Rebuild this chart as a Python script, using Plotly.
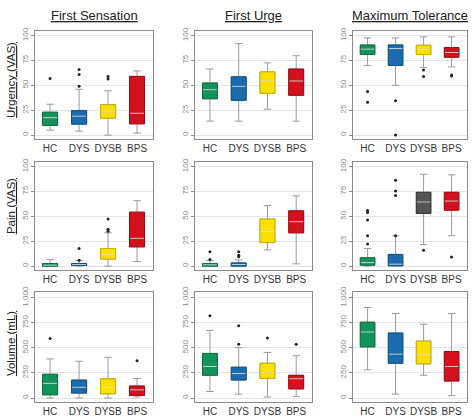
import plotly.graph_objects as go

groups = ["HC", "DYS", "DYSB", "BPS"]
col_titles = ["First Sensation", "First Urge", "Maximum Tolerance"]
row_titles = ["Urgency (VAS)", "Pain (VAS)", "Volume (mL)"]

# Urgency - First Sensation
u_fs_lo = [5, 4, 0, 2]
u_fs_q1 = [9.7, 11, 17, 11.3]
u_fs_med = [17.5, 19, 23.3, 22]
u_fs_q3 = [23, 24.6, 30.5, 59]
u_fs_hi = [31, 46, 44.5, 64.5]
u_fs_out = [[57], [66, 61, 49], [59, 56.5], []]

# Urgency - First Urge
u_fu_lo = [14, 14, 26, 14]
u_fu_q1 = [36.5, 34.9, 42, 40]
u_fu_med = [45.6, 49, 54.4, 54.4]
u_fu_q3 = [52.4, 58.6, 63.5, 66.4]
u_fu_hi = [66.4, 92, 72.6, 79.8]
u_fu_out = [[], [], [], []]

# Urgency - Maximum Tolerance
u_mt_lo = [70, 50, 68, 68.6]
u_mt_q1 = [81, 70, 81, 78.3]
u_mt_med = [86.4, 87, 86.4, 83]
u_mt_q3 = [90.6, 90.6, 90.3, 88]
u_mt_hi = [97.7, 97.7, 98.7, 98.7]
u_mt_out = [[43.7, 33], [34.6, 0], [65.4, 59], [60.5, 59.5]]

# Pain - First Sensation
p_fs_lo = [0, 0, 0, 4.6]
p_fs_q1 = [0, 0.7, 7.2, 19.4]
p_fs_med = [1, 1.6, 12, 28]
p_fs_q3 = [2.6, 2.6, 17.8, 54.3]
p_fs_hi = [6.6, 5.6, 33.5, 65.8]
p_fs_out = [[], [17.8, 6], [47.4, 37, 35], []]

# Pain - First Urge
p_fu_lo = [0, 0, 16.4, 2.3]
p_fu_q1 = [0, 0, 23.7, 33.5]
p_fu_med = [1.3, 1.6, 35, 44.7]
p_fu_q3 = [2.6, 3.3, 47.4, 55.6]
p_fu_hi = [5.6, 6.2, 60.9, 70.7]
p_fu_out = [[14.5, 6.6], [14.5, 11, 9.5], [], []]

# Pain - Maximum Tolerance
p_mt_lo = [0, 0, 21.7, 30.6]
p_mt_q1 = [1, 0.3, 53, 56.3]
p_mt_med = [3.6, 2, 64.5, 65.5]
p_mt_q3 = [8.5, 11.8, 74.3, 74.3]
p_mt_hi = [17.8, 30.6, 92.4, 91.8]
p_mt_out = [[22.4, 30.6, 46.4, 54, 56], [30.6, 71, 75.5, 86.5], [16.1], [9.2]]

# Volume - First Sensation
v_fs_lo = [0, 0, 0, 10]
v_fs_q1 = [32, 49, 42, 26]
v_fs_med = [146, 107, 107, 81]
v_fs_q3 = [237, 179, 192, 120]
v_fs_hi = [390, 367, 406, 195]
v_fs_out = [[594], [], [], [373]]

# Volume - First Urge
v_fu_lo = [65, 39, 10, 16]
v_fu_q1 = [227, 179, 195, 91]
v_fu_med = [315, 244, 250, 192]
v_fu_q3 = [445, 308, 347, 227]
v_fu_hi = [675, 503, 455, 422]
v_fu_out = [[821], [536, 721], [600], [536]]

# Volume - Maximum Tolerance
v_mt_lo = [282, 39, 227, 23]
v_mt_q1 = [510, 347, 341, 169]
v_mt_med = [659, 438, 438, 315]
v_mt_q3 = [757, 649, 568, 464]
v_mt_hi = [903, 844, 737, 844]
v_mt_out = [[], [], [], []]

vas_ticks = [0, 25, 50, 75, 100]
vol_ticks = [0, 250, 500, 750, 1000]

colors = ["#12935a", "#1b6cad", "#fbdf00", "#d3101e"]
border = ["#0b6e42", "#124f82", "#c9b000", "#9e0a14"]
colors_pain_mt = ["#12935a", "#1b6cad", "#555555", "#d3101e"]
border_pain_mt = ["#0b6e42", "#124f82", "#333333", "#9e0a14"]

panels = [
    (u_fs_lo, u_fs_q1, u_fs_med, u_fs_q3, u_fs_hi, u_fs_out),
    (u_fu_lo, u_fu_q1, u_fu_med, u_fu_q3, u_fu_hi, u_fu_out),
    (u_mt_lo, u_mt_q1, u_mt_med, u_mt_q3, u_mt_hi, u_mt_out),
    (p_fs_lo, p_fs_q1, p_fs_med, p_fs_q3, p_fs_hi, p_fs_out),
    (p_fu_lo, p_fu_q1, p_fu_med, p_fu_q3, p_fu_hi, p_fu_out),
    (p_mt_lo, p_mt_q1, p_mt_med, p_mt_q3, p_mt_hi, p_mt_out),
    (v_fs_lo, v_fs_q1, v_fs_med, v_fs_q3, v_fs_hi, v_fs_out),
    (v_fu_lo, v_fu_q1, v_fu_med, v_fu_q3, v_fu_hi, v_fu_out),
    (v_mt_lo, v_mt_q1, v_mt_med, v_mt_q3, v_mt_hi, v_mt_out),
]

W, H = 474, 417
col_px = [(35, 153), (195, 312), (353, 467)]
row_px = [(25, 135), (158, 268), (290, 402)]

fig = go.Figure()
layout = dict(
    width=W, height=H,
    margin=dict(l=0, r=0, t=0, b=0),
    paper_bgcolor="white", plot_bgcolor="white",
    showlegend=False, boxmode="overlay",
    font=dict(family="Liberation Sans, Arial, sans-serif"),
)

BW = 0.52
for k, (lo, q1, med, q3, hi, out) in enumerate(panels):
    r, c = divmod(k, 3)
    n = k + 1
    xa = "x" if n == 1 else f"x{n}"
    ya = "y" if n == 1 else f"y{n}"
    cols = colors_pain_mt if k == 5 else colors
    bords = border_pain_mt if k == 5 else border
    for i in range(len(groups)):
        fig.add_trace(go.Box(
            x=[i], q1=[q1[i]], median=[med[i]], q3=[q3[i]],
            lowerfence=[lo[i]], upperfence=[hi[i]],
            fillcolor=cols[i], line=dict(color="#9a9a9a", width=1),
            width=BW, whiskerwidth=0.5, boxpoints=False,
            xaxis=xa, yaxis=ya, hoverinfo="skip"))
        fig.add_trace(go.Box(
            x=[i], q1=[q1[i]], median=[med[i]], q3=[q3[i]],
            lowerfence=[q1[i]], upperfence=[q3[i]],
            fillcolor=cols[i], line=dict(color=bords[i], width=1),
            width=BW, whiskerwidth=0, boxpoints=False,
            xaxis=xa, yaxis=ya, hoverinfo="skip"))
        fig.add_trace(go.Scatter(
            x=[i - BW / 2 + 0.02, i + BW / 2 - 0.02], y=[med[i], med[i]],
            mode="lines", line=dict(color="rgba(255,255,255,0.75)", width=1),
            xaxis=xa, yaxis=ya, hoverinfo="skip"))
        if out[i]:
            fig.add_trace(go.Scatter(
                x=[i] * len(out[i]), y=out[i], mode="markers",
                marker=dict(color="#222222", size=3),
                xaxis=xa, yaxis=ya, hoverinfo="skip"))

    x0, x1 = col_px[c]
    y0, y1 = row_px[r]
    is_vol = r == 2
    xkey = "xaxis" if n == 1 else f"xaxis{n}"
    ykey = "yaxis" if n == 1 else f"yaxis{n}"
    layout[xkey] = dict(
        domain=[x0 / W, x1 / W], anchor=ya, range=[-0.52, 3.55],
        tickmode="array", tickvals=list(range(len(groups))), ticktext=groups,
        tickfont=dict(size=10, color="#333333"), ticks="", showgrid=False,
        showline=True, mirror=True, linecolor="#8a8a8a", linewidth=1,
        zeroline=False, fixedrange=True)
    layout[ykey] = dict(
        domain=[1 - y1 / H, 1 - y0 / H], anchor=xa,
        range=[-42, 1060] if is_vol else [-4, 105],
        tickmode="array", tickvals=vol_ticks if is_vol else vas_ticks,
        tickformat=",", tickangle=-90,
        tickfont=dict(size=8, color="#8a8a8a"),
        ticks="outside", ticklen=3, tickcolor="#8a8a8a",
        showgrid=True, gridcolor="#e4e4e4", gridwidth=1,
        showline=True, mirror=True, linecolor="#8a8a8a", linewidth=1,
        zeroline=False, fixedrange=True)

annotations = []
for c, t in enumerate(col_titles):
    x0, x1 = col_px[c]
    annotations.append(dict(
        text=f"<u>{t}</u>", x=(x0 + x1) / 2 / W, y=1 - 10 / H,
        xref="paper", yref="paper", showarrow=False,
        xanchor="center", yanchor="middle",
        font=dict(size=13, color="#222222")))
row_centers = [75, 203, 343]
for r, t in enumerate(row_titles):
    annotations.append(dict(
        text=f"<u>{t}</u>", x=11 / W, y=1 - row_centers[r] / H,
        xref="paper", yref="paper", showarrow=False, textangle=-90,
        xanchor="center", yanchor="middle",
        font=dict(size=11.5, color="#222222")))
layout["annotations"] = annotations

fig.update_layout(**layout)
fig.write_html(
    "out.html",
    config={"displayModeBar": False},
    post_script="document.body.style.margin='0px';document.body.style.overflow='hidden';",
)
